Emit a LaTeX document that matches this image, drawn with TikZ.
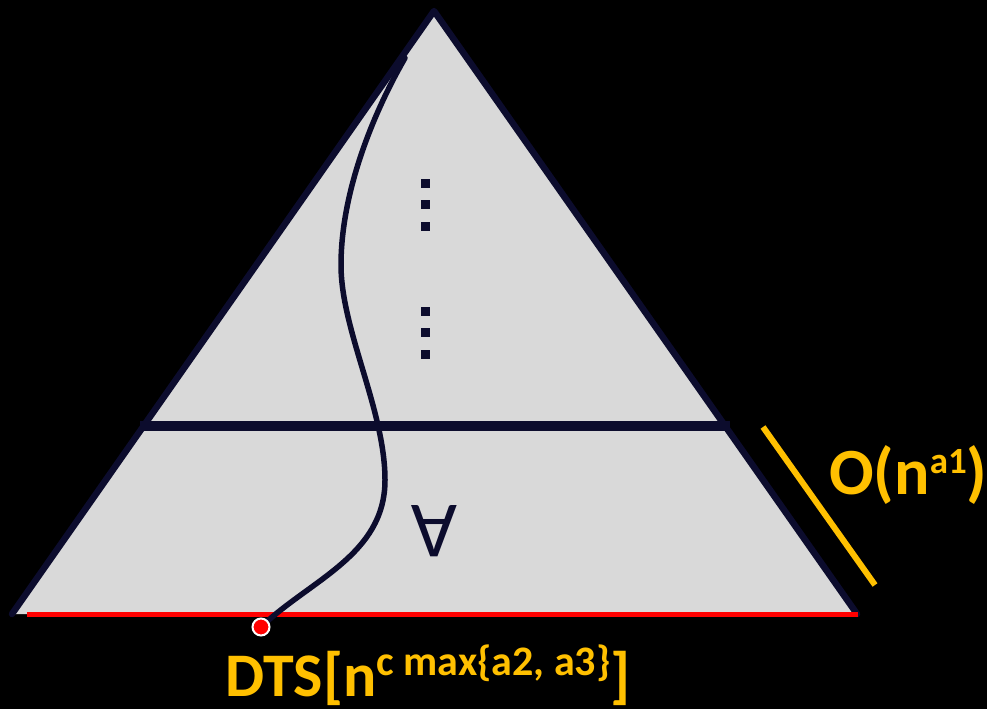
\documentclass[tikz,border=0pt]{standalone}
\usepackage{fontspec}
\setmainfont{Carlito}
\definecolor{navy}{RGB}{12,12,45}
\definecolor{trigray}{RGB}{217,217,217}
\definecolor{gold}{RGB}{255,192,0}
\tikzset{
  trifill/.style={fill=trigray},
  edgeline/.style={draw=navy, line width=6.5pt, line join=round, line cap=round},
  bandline/.style={draw=navy, line width=10pt},
  redbase/.style={draw=red, line width=5pt},
  routeline/.style={draw=navy, line width=5.5pt, line cap=round},
  dotsq/.style={fill=navy, minimum size=9pt, inner sep=0pt, outer sep=0pt},
  enddot/.style={circle, fill=red, draw=white, line width=2pt, minimum size=17pt, inner sep=0pt},
  goldline/.style={draw=gold, line width=6pt},
  lbl/.style={text=gold, inner sep=0pt, anchor=base west}
}
\begin{document}
\begin{tikzpicture}[x=1pt,y=-1pt]
\fill[black] (0,0) rectangle (987,709);
\useasboundingbox (0,0) rectangle (987,709);
\coordinate (apex) at (434,11);
\coordinate (bl) at (12,614);
\coordinate (br) at (857,614);
\fill[trifill] (apex) -- (bl) -- (br) -- cycle;
\draw[edgeline] (bl) -- (apex) -- (br);
\coordinate (rl) at (27,614);
\coordinate (rr) at (858,614);
\draw[redbase] (rl) -- (rr);
\coordinate (hl) at (140,426);
\coordinate (hr) at (730,426);
\draw[bandline] (hl) -- (hr);
% dots
\foreach \yy/\nm in {183.5/d1,204.5/d2,226/d3,311.5/d4,332.5/d5,354/d6}
  \node[dotsq] (\nm) at (425.5,\yy) {};
% forall
\node[text=navy, inner sep=0pt, font=\fontsize{80}{80}\selectfont] (fa) at (434,531) {\rotatebox{180}{A}};
% curve
\coordinate (cs) at (405,58);
\coordinate (ce) at (261,627);
\draw[routeline] (cs) .. controls (375,110) and (341,190) .. (341,265)
  .. controls (341,330) and (385,410) .. (385,480)
  .. controls (385,555) and (310,580) .. (ce);
\node[enddot] (end) at (ce) {};
% gold line
\coordinate (g1) at (763,427);
\coordinate (g2) at (875,585);
\draw[goldline] (g1) -- (g2);
% labels
\node[lbl, font=\bfseries\fontsize{66}{66}\selectfont] (on) at (829,494) {O(n\raisebox{21pt}{\fontsize{37}{37}\selectfont a1})};
\node[lbl, font=\bfseries\fontsize{62}{62}\selectfont] (dts) at (225,696) {DTS[n\raisebox{21pt}{\fontsize{42}{42}\selectfont c max\{a2, a3\}}]};
\end{tikzpicture}
\end{document}
